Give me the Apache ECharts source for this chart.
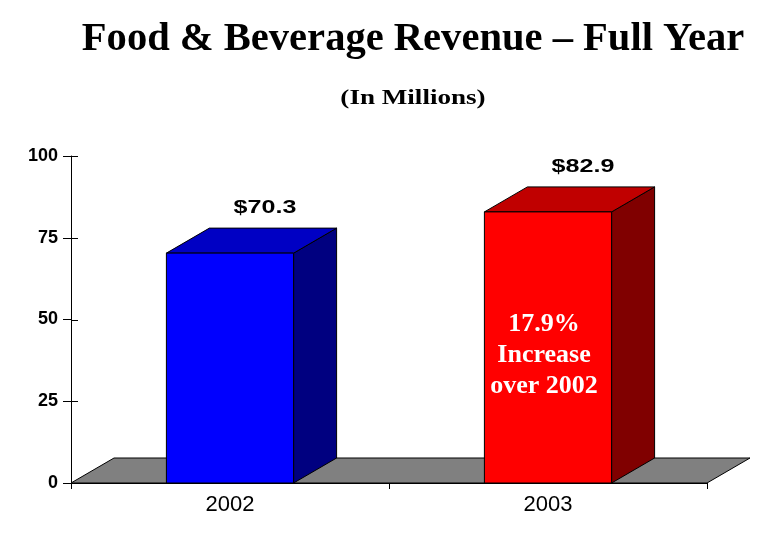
<!DOCTYPE html>
<html><head><meta charset="utf-8">
<script src="https://cdn.jsdelivr.net/npm/echarts@6/dist/echarts.min.js"></script>
<style>html,body{margin:0;padding:0;background:#fff;}#c{width:775px;height:560px;}</style>
</head><body><div id="c"></div>
<script>
const categories = ['2002', '2003'];
const revenue = [70.3, 82.9];
const valueLabels = ['$70.3', '$82.9'];
const yTicks = [0, 25, 50, 75, 100];
const noteLines = ['17.9%', 'Increase', 'over 2002'];
const noteBarIndex = 1;
const noteValue = 39;

const palette = [
  {front: '#0000FF', top: '#0000C4', side: '#000080'},
  {front: '#FF0000', top: '#C00000', side: '#800000'}
];
const DX = 43, DY = -25;

const chart = echarts.init(document.getElementById('c'), null, {renderer: 'canvas'});

function renderFloor(params, api) {
  const cs = params.coordSys;
  const yb = cs.y + cs.height;
  return {
    type: 'polygon',
    shape: {points: [[cs.x, yb], [cs.x + cs.width, yb], [cs.x + cs.width + DX, yb + DY], [cs.x + DX, yb + DY]]},
    style: {fill: '#808080', stroke: '#000', lineWidth: 1}
  };
}

function renderInnerTick(params, api) {
  const cs = params.coordSys;
  const y = Math.round(api.coord([0, api.value(1)])[1]) + 0.5;
  return {type: 'line', shape: {x1: cs.x, y1: y, x2: cs.x + 7, y2: y},
          style: {stroke: '#000', lineWidth: 1}};
}

function renderBar(params, api) {
  const i = params.dataIndex;
  const cat = api.value(0), v = api.value(1);
  const base = api.coord([cat, 0]);
  const top = api.coord([cat, v]);
  const w = api.size([1, 0])[0] * 0.4;
  const x0 = base[0] - w / 2, x1 = base[0] + w / 2, y0 = base[1], y1 = top[1];
  const c = palette[i];
  const children = [
    {type: 'polygon', shape: {points: [[x1, y0], [x1, y1], [x1 + DX, y1 + DY], [x1 + DX, y0 + DY]]},
     style: {fill: c.side, stroke: '#000', lineWidth: 1}},
    {type: 'polygon', shape: {points: [[x0, y1], [x1, y1], [x1 + DX, y1 + DY], [x0 + DX, y1 + DY]]},
     style: {fill: c.top, stroke: '#000', lineWidth: 1}},
    {type: 'rect', shape: {x: x0, y: y1, width: w, height: y0 - y1},
     style: {fill: c.front, stroke: '#000', lineWidth: 1}},
    {type: 'text', x: base[0] + 35, y: y1 + DY - 20, scaleX: 1.32,
     style: {text: valueLabels[i], fill: '#000', font: 'bold 19px Arial, "Liberation Sans", sans-serif',
             align: 'center', verticalAlign: 'middle'}}
  ];
  if (i === noteBarIndex) {
    const p = api.coord([cat, noteValue]);
    children.push({type: 'text', x: p[0] - 4, y: p[1],
      style: {text: noteLines.join('\n'), fill: '#fff', font: 'bold 26px "Times New Roman", "Liberation Serif", serif',
              align: 'center', verticalAlign: 'middle', lineHeight: 31}});
  }
  return {type: 'group', children};
}

const option = {
  animation: false,
  backgroundColor: '#fff',
  graphic: [
    {type: 'text', x: 413, y: 40, scaleX: 1.04,
     style: {text: 'Food & Beverage Revenue \u2013 Full Year', fill: '#000', align: 'center', verticalAlign: 'middle',
             font: 'bold 39px "Times New Roman", "Liberation Serif", serif'}},
    {type: 'text', x: 413, y: 99, scaleX: 1.29,
     style: {text: '(In Millions)', fill: '#000', align: 'center', verticalAlign: 'middle',
             font: 'bold 21px "Times New Roman", "Liberation Serif", serif'}}
  ],
  grid: {left: 71, right: 68, top: 156, bottom: 77},
  xAxis: {
    type: 'category', data: categories,
    axisLine: {lineStyle: {color: '#000', width: 1}},
    axisTick: {show: true, length: 6, lineStyle: {color: '#000'}},
    axisLabel: {color: '#000', fontSize: 22, fontFamily: 'Arial, "Liberation Sans", sans-serif', margin: 11},
    splitLine: {show: false}
  },
  yAxis: {
    type: 'value', min: yTicks[0], max: yTicks[yTicks.length - 1], interval: 25,
    axisLine: {show: true, onZero: false, lineStyle: {color: '#000'}},
    axisTick: {show: true, length: 8, lineStyle: {color: '#000'}},
    axisLabel: {color: '#000', fontSize: 18, fontWeight: 'bold', fontFamily: 'Arial, "Liberation Sans", sans-serif', margin: 13},
    splitLine: {show: false}
  },
  series: [
    {type: 'custom', renderItem: renderFloor, data: [[0, 0]], z: 1, silent: true},
    {type: 'custom', renderItem: renderInnerTick, z: 2, silent: true,
     data: yTicks.map(t => [0, t]), encode: {x: 0, y: 1}},
    {type: 'custom', renderItem: renderBar, z: 3,
     data: categories.map((c, i) => [i, revenue[i]]),
     encode: {x: 0, y: 1}}
  ]
};
chart.setOption(option);
</script>
</body></html>
